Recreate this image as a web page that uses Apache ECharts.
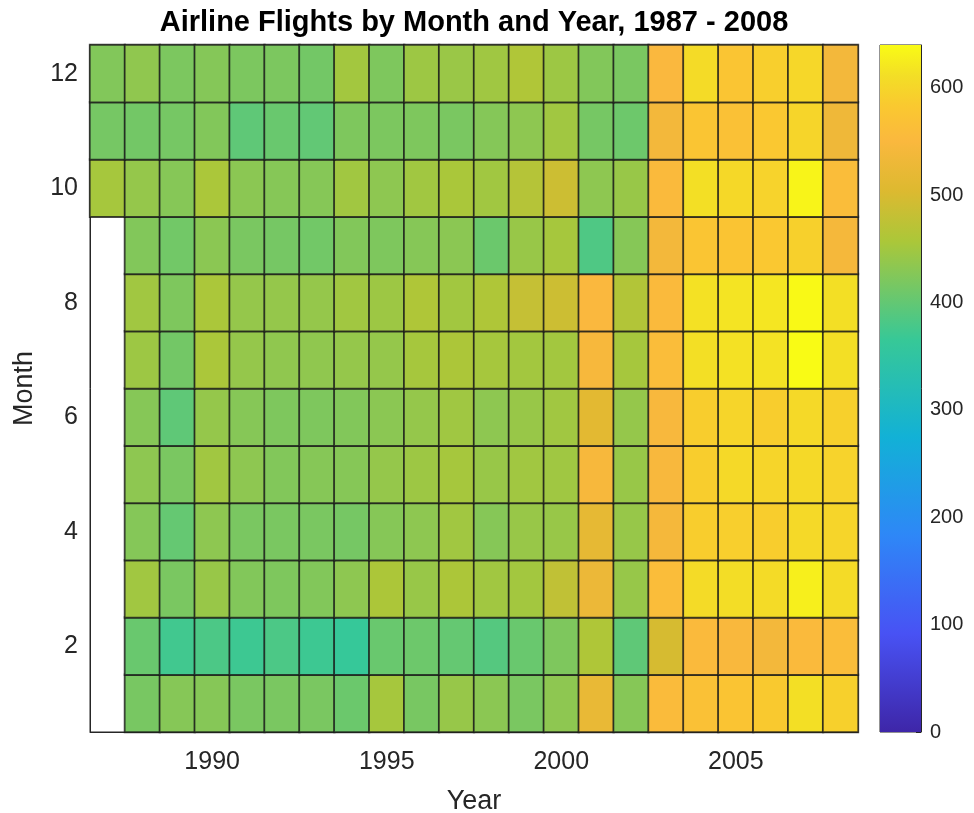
<!DOCTYPE html>
<html><head><meta charset="utf-8">
<script src="https://cdn.jsdelivr.net/npm/echarts@6/dist/echarts.min.js"></script>
<style>html,body{margin:0;padding:0;background:#fff}#c{width:974px;height:813px}</style>
</head><body><div id="c"></div>
<script>
const years = ['1987','1988','1989','1990','1991','1992','1993','1994','1995','1996','1997','1998','1999','2000','2001','2002','2003','2004','2005','2006','2007','2008'];
const months = ['1','2','3','4','5','6','7','8','9','10','11','12'];
const xTickLabels = ['1990','1995','2000','2005'];
const yTickLabels = ['2','4','6','8','10','12'];
const cbTicks = [0,100,200,300,400,500,600];
const cbMin = 0;
const cbMax = 640;

// flights (thousands) per month, years 1987..2008
const jan = [null,417,428,428,418,418,418,407,453,417,441,432,418,434,524,428,557,568,574,584,612,593];
const feb = [null,405,373,382,370,382,370,363,405,408,402,389,405,422,461,397,498,555,548,539,555,560];
const mar = [null,449,418,442,425,422,425,434,458,442,458,449,451,477,529,441,560,607,610,607,628,607];
const apr = [null,427,402,434,418,418,418,415,428,434,449,428,442,442,519,441,541,589,591,589,605,600];
const may = [null,434,418,449,434,425,428,428,439,446,453,442,449,448,545,442,547,589,605,600,605,596];
const jun = [null,428,397,439,428,422,422,425,432,439,448,434,442,449,513,439,547,589,600,589,605,593];
const jul = [null,446,413,457,439,436,436,439,439,453,458,453,451,451,545,453,560,612,614,615,640,612];
const aug = [null,449,422,457,439,439,439,449,446,461,450,461,482,488,550,464,555,614,617,619,638,612];
const sep = [null,425,412,432,418,415,412,425,422,428,432,407,442,453,384,428,539,576,574,581,593,541];
const oct = [453,439,428,457,432,428,428,449,434,449,456,449,467,488,434,442,555,612,604,596,633,560];
const nov = [415,413,415,425,397,405,399,422,420,422,418,427,434,449,415,408,539,576,568,581,600,534];
const dec = [425,436,420,427,420,420,413,451,422,446,443,448,462,446,425,418,550,607,576,591,602,539];

// parula-like colormap key stops [position 0..1, rgb]
const cmapStops = [
  [0.000, [62,38,168]],
  [0.143, [72,82,244]],
  [0.286, [46,135,247]],
  [0.429, [18,177,214]],
  [0.571, [55,200,151]],
  [0.714, [171,199,57]],
  [0.790, [222,185,48]],
  [0.860, [250,184,62]],
  [0.910, [250,200,48]],
  [0.955, [243,222,38]],
  [1.000, [249,251,21]]
];
function cmapAt(t) {
  for (let k = 1; k < cmapStops.length; k++) {
    const [t1, c1] = cmapStops[k], [t0, c0] = cmapStops[k - 1];
    if (t <= t1) {
      const f = (t - t0) / (t1 - t0);
      return 'rgb(' + c0.map((v, j) => Math.round(v + (c1[j] - v) * f)).join(',') + ')';
    }
  }
  return 'rgb(' + cmapStops[cmapStops.length - 1][1].join(',') + ')';
}
const cmapColors = [];
for (let i = 0; i <= 128; i++) cmapColors.push(cmapAt(i / 128));

const rows = [jan,feb,mar,apr,may,jun,jul,aug,sep,oct,nov,dec];
const heat = [];
rows.forEach((r, m) => r.forEach((v, i) => { if (v !== null) heat.push([i, m, v]); }));

const FONT = "'Liberation Sans', Arial, Helvetica, sans-serif";
const AX = '#262626';

const chart = echarts.init(document.getElementById('c'), null, {renderer: 'canvas'});
chart.setOption({
  animation: false,
  backgroundColor: '#fff',
  title: {
    text: 'Airline Flights by Month and Year, 1987 - 2008',
    left: 469, top: 3, textAlign: 'center',
    textStyle: {fontFamily: FONT, fontWeight: 'bold', fontSize: 29, color: '#000'}
  },
  grid: [
    {left: 90, top: 45, width: 768, height: 687, show: true, borderColor: AX, borderWidth: 1,
      backgroundColor: 'transparent', containLabel: false, outerBoundsMode: 'none'},
    {left: 880, top: 45, width: 41, height: 687, show: true, borderColor: AX, borderWidth: 1,
      containLabel: false, outerBoundsMode: 'none'}
  ],
  xAxis: [
    {
      type: 'category', data: years, gridIndex: 0,
      name: 'Year', nameLocation: 'middle', nameGap: 56,
      nameTextStyle: {fontFamily: FONT, fontSize: 27, color: AX},
      axisLine: {lineStyle: {color: AX}},
      axisTick: {inside: true, length: 6, alignWithLabel: true, lineStyle: {color: AX},
        interval: (i, v) => xTickLabels.includes(v)},
      axisLabel: {fontFamily: FONT, fontSize: 25, color: AX, margin: 18,
        interval: (i, v) => xTickLabels.includes(v)},
      splitLine: {show: false}
    },
    {type: 'category', data: ['cb'], gridIndex: 1, show: false}
  ],
  yAxis: [
    {
      type: 'category', data: months, gridIndex: 0,
      name: 'Month', nameLocation: 'middle', nameGap: 52,
      nameTextStyle: {fontFamily: FONT, fontSize: 27, color: AX},
      axisLine: {lineStyle: {color: AX}},
      axisTick: {inside: true, length: 6, alignWithLabel: true, lineStyle: {color: AX},
        interval: (i, v) => yTickLabels.includes(v)},
      axisLabel: {fontFamily: FONT, fontSize: 25, color: AX, margin: 12,
        interval: (i, v) => yTickLabels.includes(v)},
      splitLine: {show: false}
    },
    {
      type: 'value', gridIndex: 1, position: 'right', min: cbMin, max: cbMax,
      axisLine: {show: true, lineStyle: {color: AX}},
      axisTick: {show: true, inside: true, length: 5, lineStyle: {color: AX}, customValues: cbTicks},
      axisLabel: {fontFamily: FONT, fontSize: 20, color: AX, margin: 9, customValues: cbTicks},
      splitLine: {show: false}
    }
  ],
  visualMap: {
    type: 'continuous', show: false, min: cbMin, max: cbMax, seriesIndex: 0,
    inRange: {color: cmapColors}
  },
  series: [
    {
      type: 'heatmap', xAxisIndex: 0, yAxisIndex: 0, data: heat,
      itemStyle: {borderColor: 'rgba(25,25,25,0.8)', borderWidth: 1.8},
      emphasis: {disabled: true}
    },
    {
      type: 'bar', xAxisIndex: 1, yAxisIndex: 1, data: [cbMax], barWidth: '100%',
      silent: true,
      itemStyle: {color: {type: 'linear', x: 0, y: 0, x2: 0, y2: 1,
        colorStops: cmapStops.map(([t, c]) => ({offset: 1 - t, color: 'rgb(' + c.join(',') + ')'})).reverse()}}
    }
  ]
});
</script></body></html>
